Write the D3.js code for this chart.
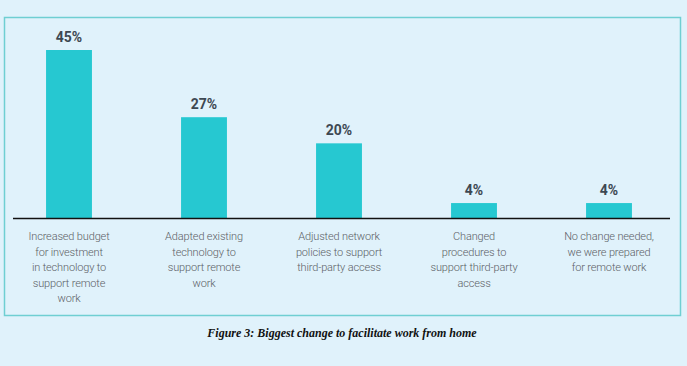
<!DOCTYPE html>
<html>
<head>
<meta charset="utf-8">
<script src="https://cdn.jsdelivr.net/npm/d3@7"></script>
<style>
  html, body { margin: 0; padding: 0; background: #e0f2fb; }
  svg { display: block; }
</style>
</head>
<body>
<div id="chart"></div>
<script>
// chart data
const categories = [
  ["Increased budget", "for investment", "in technology to", "support remote", "work"],
  ["Adapted existing", "technology to", "support remote", "work"],
  ["Adjusted network", "policies to support", "third-party access"],
  ["Changed", "procedures to", "support third-party", "access"],
  ["No change needed,", "we were prepared", "for remote work"]
];
const values = [45, 27, 20, 4, 4];
const valueLabels = ["45%", "27%", "20%", "4%", "4%"];
const caption = "Figure 3: Biggest change to facilitate work from home";

const width = 687, height = 366;
const baseY = 218;

const svg = d3.select("#chart").append("svg")
  .attr("width", width)
  .attr("height", height);

svg.append("rect")
  .attr("width", width).attr("height", height)
  .attr("fill", "#e0f2fb");

// frame
svg.append("rect")
  .attr("x", 4.5).attr("y", 17.5)
  .attr("width", 676).attr("height", 298)
  .attr("fill", "none")
  .attr("stroke", "#6fcfd2")
  .attr("stroke-width", 1.5);

const idx = d3.range(values.length);

const x = d3.scaleBand()
  .domain(idx)
  .range([1.5, 676.5])
  .paddingInner(0.66)
  .paddingOuter(0.33);

const y = d3.scaleLinear()
  .domain([0, 45])
  .range([baseY, 50]);

svg.selectAll("rect.bar")
  .data(idx)
  .join("rect")
  .attr("class", "bar")
  .attr("x", i => x(i))
  .attr("y", i => y(values[i]))
  .attr("width", x.bandwidth())
  .attr("height", i => y(0) - y(values[i]))
  .attr("fill", "#26c8d1");

svg.selectAll("text.val")
  .data(idx)
  .join("text")
  .attr("class", "val")
  .attr("x", i => x(i) + x.bandwidth() / 2)
  .attr("y", i => y(values[i]) - 8)
  .attr("text-anchor", "middle")
  .attr("font-family", "Roboto, 'Noto Sans', sans-serif")
  .attr("font-weight", 700)
  .attr("font-size", 14)
  .attr("fill", "#3d4852")
  .text(i => valueLabels[i]);

// baseline
svg.append("line")
  .attr("x1", 13).attr("x2", 670)
  .attr("y1", baseY + 0.5).attr("y2", baseY + 0.5)
  .attr("stroke", "#111")
  .attr("stroke-width", 1.3);

// category labels
const catG = svg.selectAll("text.cat")
  .data(idx)
  .join("text")
  .attr("class", "cat")
  .attr("text-anchor", "middle")
  .attr("font-family", "Roboto, 'Noto Sans', sans-serif")
  .attr("font-weight", 300)
  .attr("font-size", 11)
  .attr("letter-spacing", -0.15)
  .attr("fill", "#5c6166");

catG.selectAll("tspan")
  .data(i => categories[i].map(t => ({ t, i })))
  .join("tspan")
  .attr("x", d => x(d.i) + x.bandwidth() / 2)
  .attr("y", (d, k) => 240 + k * 15.5)
  .text(d => d.t);

svg.append("text")
  .attr("x", 342)
  .attr("y", 337)
  .attr("text-anchor", "middle")
  .attr("font-family", "'Liberation Serif', 'Times New Roman', serif")
  .attr("font-weight", 700)
  .attr("font-style", "italic")
  .attr("font-size", 12)
  .attr("fill", "#111")
  .text(caption);
</script>
</body>
</html>
